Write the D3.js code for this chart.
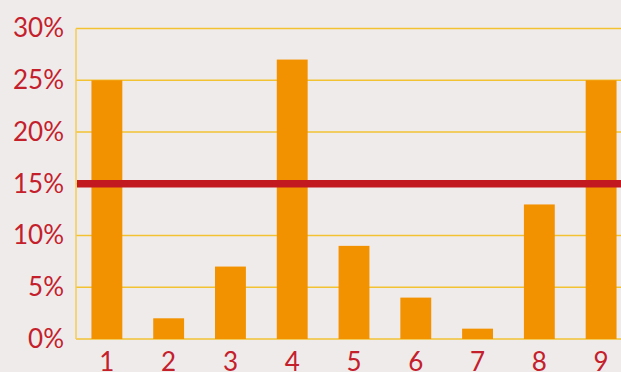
<!DOCTYPE html>
<html>
<head>
<meta charset="utf-8">
<script src="https://cdn.jsdelivr.net/npm/d3@7"></script>
<style>
  html, body { margin: 0; padding: 0; background: #f0ebeb; overflow: hidden; }
  svg { display: block; }
  text { font-family: Lato, "Open Sans", sans-serif; }
</style>
</head>
<body>
<svg id="chart" width="621" height="372"></svg>
<script>
// Share of each group, in percent
const categories = ["1", "2", "3", "4", "5", "6", "7", "8", "9"];
const values = [25, 2, 7, 27, 9, 4, 1, 13, 25];
// Reference level drawn as a horizontal rule
const threshold = 15;
const yTicks = [0, 5, 10, 15, 20, 25, 30];

const svg = d3.select("#chart");
const margin = { top: 28.5, left: 76 };
const plotW = 556;
const plotH = 310.5;

const x = d3.scaleBand()
  .domain(categories)
  .range([margin.left, margin.left + plotW])
  .paddingInner(0.5)
  .paddingOuter(0.25);

const y = d3.scaleLinear()
  .domain([0, 30])
  .range([margin.top + plotH, margin.top]);

// horizontal grid
svg.append("g")
  .selectAll("line")
  .data(yTicks)
  .join("line")
  .attr("x1", margin.left)
  .attr("x2", margin.left + plotW)
  .attr("y1", d => y(d))
  .attr("y2", d => y(d))
  .attr("stroke", "#f2c233")
  .attr("stroke-width", 1.3);

// left axis line
svg.append("line")
  .attr("x1", margin.left).attr("x2", margin.left)
  .attr("y1", y(30)).attr("y2", y(0))
  .attr("stroke", "#f7cc52")
  .attr("stroke-width", 1.5);

// y labels
const yAxis = d3.axisLeft(y)
  .tickValues(yTicks)
  .tickFormat(d => d + "%")
  .tickSize(0)
  .tickPadding(12);
const gy = svg.append("g")
  .attr("transform", `translate(${margin.left},0)`)
  .call(yAxis);
gy.select(".domain").remove();
gy.selectAll("text")
  .attr("fill", "#c4202b")
  .style("font-size", "26px")
  .style("font-family", "Lato, sans-serif");

// bars
svg.append("g")
  .selectAll("rect")
  .data(values)
  .join("rect")
  .attr("x", (d, i) => x(categories[i]))
  .attr("width", x.bandwidth())
  .attr("y", d => y(d))
  .attr("height", d => y(0) - y(d))
  .attr("fill", "#f39200");

// threshold rule
svg.append("line")
  .attr("x1", margin.left + 1)
  .attr("x2", margin.left + plotW)
  .attr("y1", y(threshold))
  .attr("y2", y(threshold))
  .attr("stroke", "#c1191f")
  .attr("stroke-width", 7.5);

// x labels
const xAxis = d3.axisBottom(x).tickSize(0).tickPadding(14);
const gx = svg.append("g")
  .attr("transform", `translate(0,${y(0)})`)
  .call(xAxis);
gx.select(".domain").remove();
gx.selectAll("text")
  .attr("fill", "#c4202b")
  .style("font-size", "26px")
  .style("font-family", "Lato, sans-serif");
</script>
</body>
</html>
